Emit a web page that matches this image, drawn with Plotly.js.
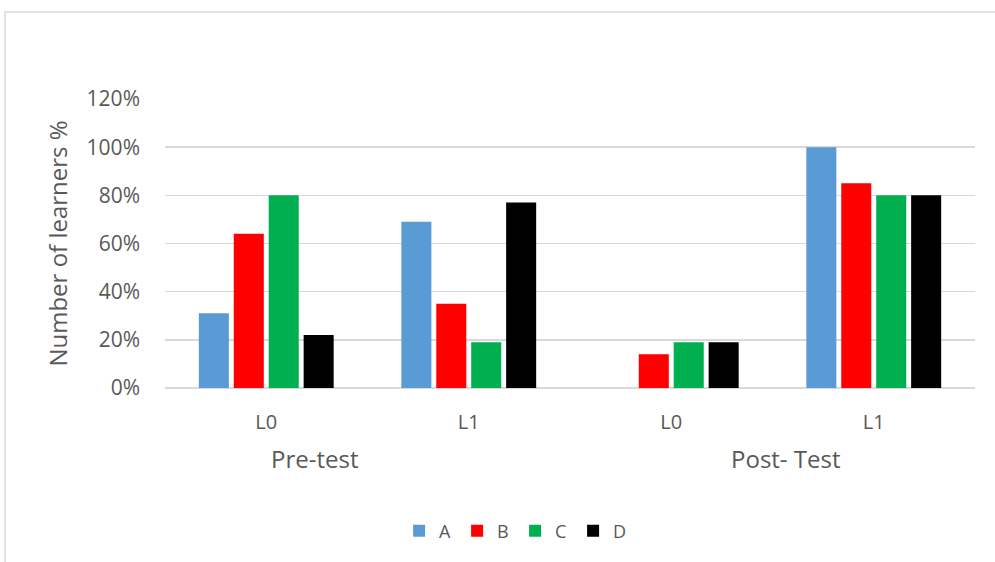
<!DOCTYPE html>
<html>
<head>
<meta charset="utf-8">
<script src="https://cdn.plot.ly/plotly-3.0.1.min.js"></script>
<style>
  html, body { margin: 0; padding: 0; background: #ffffff; }
  #chart { width: 995px; height: 562px; }
</style>
</head>
<body>
<div id="chart"></div>
<script>
// Category layout: two test phases, each with levels L0 and L1
var levels = ['L0', 'L1', 'L0', 'L1'];
var phases = ['Pre-test', 'Post- Test'];

// Share of learners per group (fraction of 1)
var seriesNames = ['A', 'B', 'C', 'D'];
var valuesA = [0.31, 0.69, 0.00, 1.00];
var valuesB = [0.64, 0.35, 0.14, 0.85];
var valuesC = [0.80, 0.19, 0.19, 0.80];
var valuesD = [0.22, 0.77, 0.19, 0.80];

var yTickVals = [0, 0.2, 0.4, 0.6, 0.8, 1.0, 1.2];

var colors = ['#5B9BD5', '#FF0000', '#00B050', '#000000'];
var allValues = [valuesA, valuesB, valuesC, valuesD];
var xPos = levels.map(function (_, i) { return i; });

var FONT = 'Open Sans, Liberation Sans, sans-serif';
var TEXT = '#595959';

var traces = seriesNames.map(function (name, k) {
  return {
    type: 'bar',
    name: name,
    x: xPos,
    y: allValues[k],
    marker: { color: colors[k], line: { width: 0 } },
    hoverinfo: 'skip'
  };
});

// Phase labels sit under the level ticks
var annotations = [
  { text: phases[0], x: 0.236, y: -0.245 },
  { text: phases[1], x: 2.567, y: -0.245 }
].map(function (a) {
  return {
    text: a.text, x: a.x, xref: 'x', y: a.y, yref: 'paper',
    yanchor: 'middle', xanchor: 'center', showarrow: false,
    font: { family: FONT, size: 24, color: TEXT }
  };
});

var layout = {
  width: 995,
  height: 562,
  margin: { l: 165, r: 20, t: 99, b: 174, pad: 0 },
  paper_bgcolor: '#ffffff',
  plot_bgcolor: '#ffffff',
  barmode: 'group',
  bargap: 0.31,
  bargroupgap: 0.14,
  showlegend: true,
  legend: {
    orientation: 'h',
    x: 0.289, xanchor: 'left',
    y: -0.495, yanchor: 'middle',
    font: { family: FONT, size: 18, color: TEXT },
    itemwidth: 30,
    entrywidth: 13,
    entrywidthmode: 'pixels',
    traceorder: 'normal'
  },
  xaxis: {
    range: [-0.5, 3.5],
    tickmode: 'array',
    tickvals: xPos,
    ticktext: levels,
    ticks: '',
    showgrid: false,
    showline: false,
    zeroline: false,
    ticklabelstandoff: 20,
    tickfont: { family: FONT, size: 20, color: TEXT },
    fixedrange: true
  },
  yaxis: {
    range: [0, 1.2],
    tickmode: 'array',
    tickvals: yTickVals,
    tickformat: '.0%',
    ticks: '',
    showgrid: true,
    gridcolor: '#d9d9d9',
    gridwidth: 1.5,
    zeroline: true,
    zerolinecolor: '#d9d9d9',
    zerolinewidth: 1.5,
    showline: false,
    ticklabelstandoff: 24,
    tickfont: { family: FONT, size: 21, color: TEXT },
    title: {
      text: 'Number of learners %',
      font: { family: FONT, size: 24, color: TEXT },
      standoff: 12
    },
    fixedrange: true
  },
  annotations: annotations,
  shapes: [{
    // outer chart frame (top and left edges)
    type: 'path',
    xref: 'paper', yref: 'paper',
    path: 'M -0.1975,-0.61 L -0.1975,1.3014 L 1.03,1.3014',
    line: { color: '#d9d9d9', width: 1.5 },
    layer: 'above'
  }]
};

Plotly.newPlot('chart', traces, layout, { displayModeBar: false, staticPlot: true });
</script>
</body>
</html>
